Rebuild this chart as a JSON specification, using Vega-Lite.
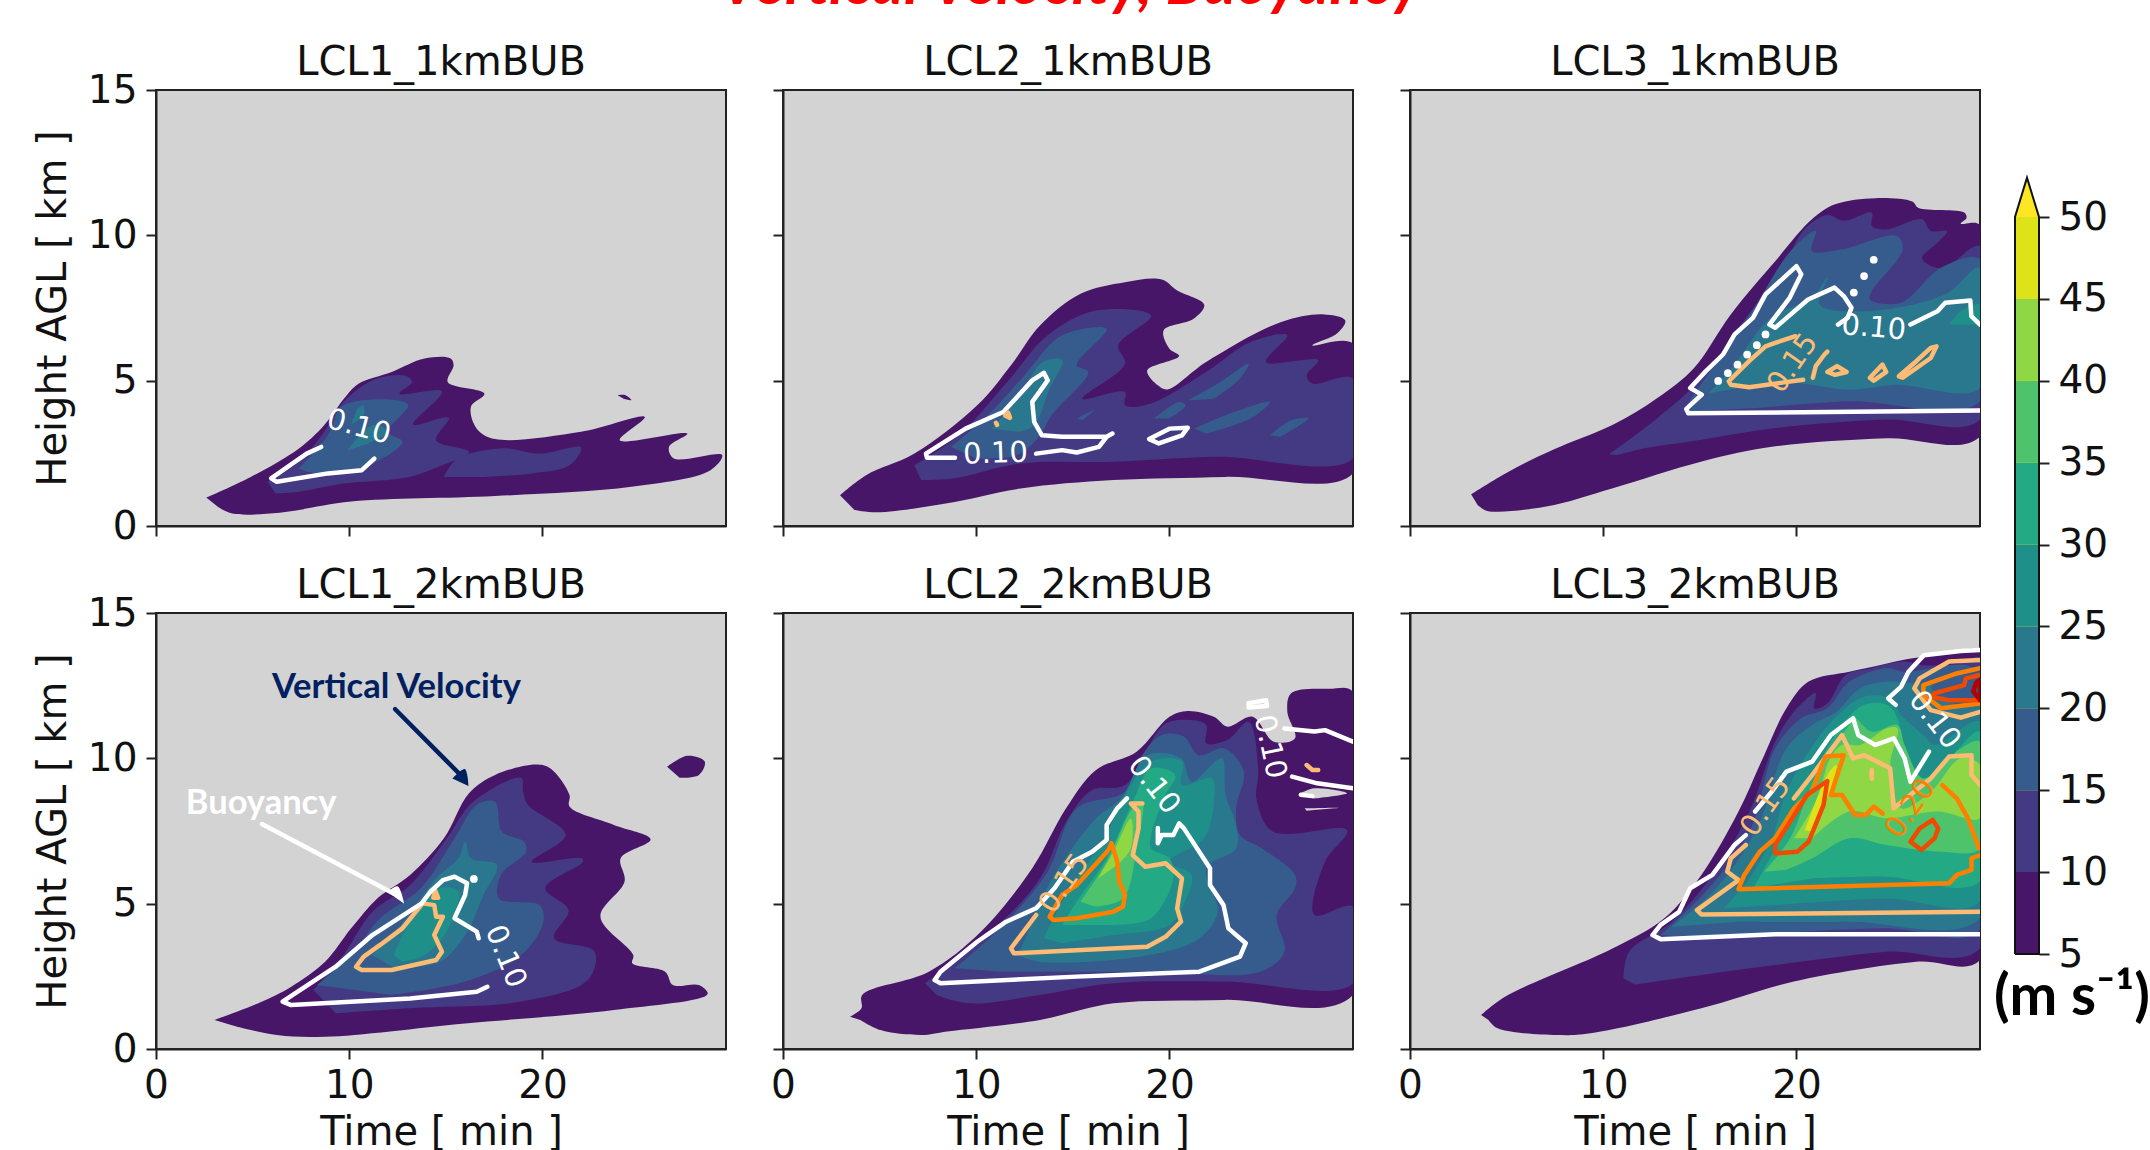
{"$schema":"https://vega.github.io/schema/vega-lite/v6.json","padding":{"left":32,"top":0,"right":0,"bottom":0},"background":"white","spacing":26,
"config":{"font":"DejaVu Sans","view":{"fill":"#d3d3d3","stroke":"#222222","strokeWidth":2},"axis":{"labelFont":"DejaVu Sans","titleFont":"DejaVu Sans","labelFontSize":39,"titleFontSize":40,"titleFontWeight":"normal","labelColor":"#111","titleColor":"#111","tickColor":"#222","domainColor":"#222","tickSize":10,"tickWidth":2,"domainWidth":2,"grid":false,"labelPadding":9,"labelOverlap":false,"labelFlush":false},"axisX":{"labelPadding":7,"titlePadding":7},"axisY":{"titlePadding":14},"title":{"font":"DejaVu Sans","fontSize":40,"fontWeight":"normal","color":"#111","offset":6}},
"datasets":{
"fa":[{"g":1,"l":5,"t":2.6,"h":0.98},{"g":1,"l":5,"t":4.9,"h":1.69},{"g":1,"l":5,"t":7.4,"h":2.67},{"g":1,"l":5,"t":8.7,"h":3.47},{"g":1,"l":5,"t":9.8,"h":4.44},{"g":1,"l":5,"t":10.5,"h":4.9},{"g":1,"l":5,"t":12.2,"h":5.3},{"g":1,"l":5,"t":13.9,"h":5.76},{"g":1,"l":5,"t":15.25,"h":5.76},{"g":1,"l":5,"t":15.4,"h":5.53},{"g":1,"l":5,"t":15.1,"h":4.95},{"g":1,"l":5,"t":17,"h":4.55},{"g":1,"l":5,"t":16.3,"h":4.1},{"g":1,"l":5,"t":16.6,"h":3.35},{"g":1,"l":5,"t":17.55,"h":2.99},{"g":1,"l":5,"t":22,"h":3.24},{"g":1,"l":5,"t":25.3,"h":3.75},{"g":1,"l":5,"t":24,"h":2.95},{"g":1,"l":5,"t":27.5,"h":3.18},{"g":1,"l":5,"t":26.55,"h":2.72},{"g":1,"l":5,"t":26.8,"h":2.32},{"g":1,"l":5,"t":29.3,"h":2.44},{"g":1,"l":5,"t":28.7,"h":1.92},{"g":1,"l":5,"t":24.6,"h":1.35},{"g":1,"l":5,"t":17.55,"h":1.03},{"g":1,"l":5,"t":10.1,"h":0.84},{"g":1,"l":5,"t":6.4,"h":0.46},{"g":1,"l":5,"t":3.95,"h":0.43},{"g":1,"l":5,"t":3.2,"h":0.66},
{"g":2,"l":5,"t":23.9,"h":4.5},{"g":2,"l":5,"t":24.3,"h":4.5},{"g":2,"l":5,"t":24.6,"h":4.33},{"g":2,"l":5,"t":24.2,"h":4.38},
{"g":3,"l":10,"t":5.77,"h":1.52},{"g":3,"l":10,"t":7.4,"h":2.2},{"g":3,"l":10,"t":8.7,"h":3.24},{"g":3,"l":10,"t":9.7,"h":4.27},{"g":3,"l":10,"t":11.4,"h":5.07},{"g":3,"l":10,"t":12.95,"h":5.16},{"g":3,"l":10,"t":13.25,"h":4.95},{"g":3,"l":10,"t":12.6,"h":4.55},{"g":3,"l":10,"t":14.8,"h":4.63},{"g":3,"l":10,"t":13.3,"h":3.49},{"g":3,"l":10,"t":15.15,"h":3.72},{"g":3,"l":10,"t":14.5,"h":2.95},{"g":3,"l":10,"t":16.2,"h":2.55},{"g":3,"l":10,"t":14.8,"h":2.09},{"g":3,"l":10,"t":13.1,"h":1.69},{"g":3,"l":10,"t":9.7,"h":1.46},{"g":3,"l":10,"t":7.4,"h":1.18},{"g":3,"l":10,"t":6.2,"h":1.12},
{"g":4,"l":10,"t":14.9,"h":1.69},{"g":4,"l":10,"t":15.6,"h":2.32},{"g":4,"l":10,"t":17.9,"h":2.67},{"g":4,"l":10,"t":19.85,"h":2.49},{"g":4,"l":10,"t":22,"h":2.7},{"g":4,"l":10,"t":21.4,"h":2.09},{"g":4,"l":10,"t":19.45,"h":1.81},{"g":4,"l":10,"t":17,"h":1.69},
{"g":5,"l":15,"t":7.4,"h":1.98},{"g":5,"l":15,"t":8.9,"h":3.12},{"g":5,"l":15,"t":9.7,"h":4.15},{"g":5,"l":15,"t":13.05,"h":4.18},{"g":5,"l":15,"t":12,"h":3.24},{"g":5,"l":15,"t":12.75,"h":2.9},{"g":5,"l":15,"t":11.2,"h":2.15},{"g":5,"l":15,"t":8.9,"h":1.81},{"g":5,"l":15,"t":7.8,"h":1.87},
{"g":6,"l":20,"t":9.9,"h":2.6},{"g":6,"l":20,"t":11.2,"h":3.47},{"g":6,"l":20,"t":12,"h":3.24},{"g":6,"l":20,"t":11,"h":2.84},
{"g":7,"l":20,"t":10.4,"h":4},{"g":7,"l":20,"t":10.7,"h":4.15},{"g":7,"l":20,"t":10.75,"h":3.8},{"g":7,"l":20,"t":10.1,"h":3.5}],
"ca":[{"g":1,"c":10,"t":8.55,"h":2.72},{"g":1,"c":10,"t":7.8,"h":2.49},{"g":1,"c":10,"t":5.96,"h":1.64},{"g":1,"c":10,"t":6.25,"h":1.52},{"g":1,"c":10,"t":8.9,"h":1.81},{"g":1,"c":10,"t":10.65,"h":1.92},{"g":1,"c":10,"t":11.3,"h":2.32}],
"la":[{"x":"0.10","c":10,"t":10.5,"h":3.41,"a":15}],
"fb":[{"g":1,"l":5,"t":2.95,"h":1.06},{"g":1,"l":5,"t":4.3,"h":1.75},{"g":1,"l":5,"t":6.8,"h":2.49},{"g":1,"l":5,"t":10.05,"h":4.15},{"g":1,"l":5,"t":11.8,"h":5.53},{"g":1,"l":5,"t":13.3,"h":6.9},{"g":1,"l":5,"t":15.4,"h":7.99},{"g":1,"l":5,"t":17.7,"h":8.39},{"g":1,"l":5,"t":19.6,"h":8.48},{"g":1,"l":5,"t":20.4,"h":8.1},{"g":1,"l":5,"t":21.8,"h":7.61},{"g":1,"l":5,"t":21.25,"h":7.13},{"g":1,"l":5,"t":19.7,"h":6.73},{"g":1,"l":5,"t":20,"h":6.1},{"g":1,"l":5,"t":20.5,"h":5.85},{"g":1,"l":5,"t":18.85,"h":5.35},{"g":1,"l":5,"t":19.4,"h":4.84},{"g":1,"l":5,"t":19.9,"h":4.7},{"g":1,"l":5,"t":21.9,"h":5.64},{"g":1,"l":5,"t":25.75,"h":7.01},{"g":1,"l":5,"t":28,"h":7.28},{"g":1,"l":5,"t":29.1,"h":7.07},{"g":1,"l":5,"t":28.65,"h":6.61},{"g":1,"l":5,"t":27.4,"h":6.21},{"g":1,"l":5,"t":29.5,"h":6.27},{"g":1,"l":5,"t":29.5,"h":1.81},{"g":1,"l":5,"t":22.9,"h":1.69},{"g":1,"l":5,"t":17.1,"h":1.58},{"g":1,"l":5,"t":12.3,"h":1.29},{"g":1,"l":5,"t":8.5,"h":0.78},{"g":1,"l":5,"t":4.85,"h":0.47},{"g":1,"l":5,"t":3.7,"h":0.55},
{"g":2,"l":10,"t":6.8,"h":2.09},{"g":2,"l":10,"t":9.1,"h":3.12},{"g":2,"l":10,"t":11.6,"h":4.95},{"g":2,"l":10,"t":13.7,"h":6.56},{"g":2,"l":10,"t":16.2,"h":7.41},{"g":2,"l":10,"t":19.05,"h":7.24},{"g":2,"l":10,"t":17.35,"h":6.21},{"g":2,"l":10,"t":17.7,"h":5.58},{"g":2,"l":10,"t":15.5,"h":4.38},{"g":2,"l":10,"t":17.7,"h":4.61},{"g":2,"l":10,"t":17.7,"h":4.15},{"g":2,"l":10,"t":19,"h":4.21},{"g":2,"l":10,"t":21.9,"h":5.3},{"g":2,"l":10,"t":24.2,"h":6.33},{"g":2,"l":10,"t":26.1,"h":6.56},{"g":2,"l":10,"t":25,"h":5.64},{"g":2,"l":10,"t":27.7,"h":5.7},{"g":2,"l":10,"t":27.1,"h":5.18},{"g":2,"l":10,"t":27.4,"h":4.9},{"g":2,"l":10,"t":29.5,"h":5.07},{"g":2,"l":10,"t":29.5,"h":2.32},{"g":2,"l":10,"t":22.5,"h":2.38},{"g":2,"l":10,"t":17.1,"h":2.21},{"g":2,"l":10,"t":12.3,"h":2.15},{"g":2,"l":10,"t":8.9,"h":1.64},{"g":2,"l":10,"t":7.15,"h":1.58},
{"g":3,"l":15,"t":8.7,"h":2.72},{"g":3,"l":15,"t":10.6,"h":3.81},{"g":3,"l":15,"t":12.35,"h":5.07},{"g":3,"l":15,"t":14.45,"h":6.56},{"g":3,"l":15,"t":16.75,"h":6.78},{"g":3,"l":15,"t":15.2,"h":5.53},{"g":3,"l":15,"t":15.8,"h":5.3},{"g":3,"l":15,"t":13.9,"h":3.81},{"g":3,"l":15,"t":13.3,"h":3.12},{"g":3,"l":15,"t":12.15,"h":2.44},{"g":3,"l":15,"t":10,"h":2.32},
{"g":4,"l":15,"t":15.2,"h":3.7},{"g":4,"l":15,"t":16.1,"h":3.98},{"g":4,"l":15,"t":15.5,"h":3.64},
{"g":5,"l":15,"t":19.2,"h":3.7},{"g":5,"l":15,"t":20.5,"h":4.27},{"g":5,"l":15,"t":20.85,"h":4.15},{"g":5,"l":15,"t":20,"h":3.7},
{"g":6,"l":15,"t":20.95,"h":4.32},{"g":6,"l":15,"t":22.5,"h":4.9},{"g":6,"l":15,"t":24.1,"h":5.58},{"g":6,"l":15,"t":23.65,"h":5.07},{"g":6,"l":15,"t":22.3,"h":4.38},
{"g":7,"l":15,"t":21.3,"h":3.35},{"g":7,"l":15,"t":22.9,"h":3.81},{"g":7,"l":15,"t":25.2,"h":4.27},{"g":7,"l":15,"t":24.2,"h":3.7},{"g":7,"l":15,"t":21.9,"h":3.18},
{"g":8,"l":15,"t":25.2,"h":3.12},{"g":8,"l":15,"t":26.3,"h":3.64},{"g":8,"l":15,"t":27.2,"h":3.7},{"g":8,"l":15,"t":25.75,"h":3.07},
{"g":9,"l":20,"t":10.8,"h":3.35},{"g":9,"l":20,"t":12.15,"h":4.38},{"g":9,"l":20,"t":13.45,"h":5.64},{"g":9,"l":20,"t":14.45,"h":5.7},{"g":9,"l":20,"t":13.8,"h":4.73},{"g":9,"l":20,"t":13,"h":3.47},{"g":9,"l":20,"t":12.15,"h":3.24}],
"cb":[{"g":1,"c":10,"t":8.9,"h":2.35},{"g":1,"c":10,"t":7.45,"h":2.35},{"g":1,"c":10,"t":7.4,"h":2.49},{"g":1,"c":10,"t":9.45,"h":3.35},{"g":1,"c":10,"t":11.4,"h":3.92},{"g":1,"c":10,"t":12.35,"h":4.61},{"g":1,"c":10,"t":12.9,"h":5.01},{"g":1,"c":10,"t":13.5,"h":5.27},{"g":1,"c":10,"t":13.7,"h":5.01},{"g":1,"c":10,"t":12.9,"h":4.27},{"g":1,"c":10,"t":13,"h":3.58},{"g":1,"c":10,"t":13.4,"h":3.12},{"g":1,"c":10,"t":14.45,"h":3.07},{"g":1,"c":10,"t":16.75,"h":3.07},{"g":1,"c":10,"t":17.05,"h":3.18},{"g":1,"c":10,"t":16.75,"h":3.07},{"g":1,"c":10,"t":16.35,"h":2.72},{"g":1,"c":10,"t":15.2,"h":2.53},{"g":1,"c":10,"t":14.45,"h":2.61},{"g":1,"c":10,"t":13.1,"h":2.49},
{"g":2,"c":10,"t":18.95,"h":2.99},{"g":2,"c":10,"t":20,"h":3.35},{"g":2,"c":10,"t":20.95,"h":3.38},{"g":2,"c":10,"t":20.65,"h":3.12},{"g":2,"c":10,"t":19.45,"h":2.84},{"g":2,"c":10,"t":18.95,"h":2.99},
{"g":3,"c":15,"t":11.5,"h":3.8},{"g":3,"c":15,"t":11.65,"h":3.9},{"g":3,"c":15,"t":11.75,"h":3.72},{"g":3,"c":15,"t":11.5,"h":3.8},
{"g":4,"c":15,"t":11.02,"h":3.55},{"g":4,"c":15,"t":11.08,"h":3.48}],
"lb":[{"x":"0.10","c":10,"t":11,"h":2.49,"a":-2}],
"fc":[{"g":1,"l":5,"t":3.16,"h":1.09},{"g":1,"l":5,"t":5.1,"h":1.87},{"g":1,"l":5,"t":7.4,"h":2.62},{"g":1,"l":5,"t":10.5,"h":3.48},{"g":1,"l":5,"t":12.8,"h":4.4},{"g":1,"l":5,"t":14.7,"h":5.44},{"g":1,"l":5,"t":16.6,"h":7.28},{"g":1,"l":5,"t":18.9,"h":9.11},{"g":1,"l":5,"t":20.8,"h":10.55},{"g":1,"l":5,"t":22,"h":11.07},{"g":1,"l":5,"t":24.1,"h":11.28},{"g":1,"l":5,"t":26,"h":11.16},{"g":1,"l":5,"t":26.3,"h":10.95},{"g":1,"l":5,"t":28.7,"h":10.78},{"g":1,"l":5,"t":28.8,"h":10.6},{"g":1,"l":5,"t":28.5,"h":10.4},{"g":1,"l":5,"t":29.5,"h":10.36},{"g":1,"l":5,"t":29.5,"h":3.08},{"g":1,"l":5,"t":24.65,"h":3.02},{"g":1,"l":5,"t":18.9,"h":2.74},{"g":1,"l":5,"t":15.1,"h":2.22},{"g":1,"l":5,"t":10.5,"h":1.3},{"g":1,"l":5,"t":7.05,"h":0.67},{"g":1,"l":5,"t":4,"h":0.52},{"g":1,"l":5,"t":3.5,"h":0.72},
{"g":2,"l":10,"t":10.3,"h":2.47},{"g":2,"l":10,"t":12.8,"h":3.71},{"g":2,"l":10,"t":15.1,"h":5.09},{"g":2,"l":10,"t":17,"h":6.82},{"g":2,"l":10,"t":19.3,"h":8.89},{"g":2,"l":10,"t":20.4,"h":10.2},{"g":2,"l":10,"t":21.6,"h":10.7},{"g":2,"l":10,"t":22.45,"h":10.5},{"g":2,"l":10,"t":23.9,"h":10.78},{"g":2,"l":10,"t":23.9,"h":10.32},{"g":2,"l":10,"t":24.65,"h":10.2},{"g":2,"l":10,"t":26.5,"h":10.55},{"g":2,"l":10,"t":26.95,"h":10.15},{"g":2,"l":10,"t":27.8,"h":10.15},{"g":2,"l":10,"t":27.3,"h":9.75},{"g":2,"l":10,"t":26.5,"h":9.2},{"g":2,"l":10,"t":27.55,"h":8.86},{"g":2,"l":10,"t":29.5,"h":9.63},{"g":2,"l":10,"t":29.5,"h":3.66},{"g":2,"l":10,"t":24.65,"h":3.66},{"g":2,"l":10,"t":18.9,"h":3.37},{"g":2,"l":10,"t":15.1,"h":2.97},{"g":2,"l":10,"t":12.2,"h":2.68},{"g":2,"l":10,"t":10.7,"h":2.43},
{"g":3,"l":15,"t":14.1,"h":3.94},{"g":3,"l":15,"t":15.65,"h":5.44},{"g":3,"l":15,"t":17.6,"h":7.28},{"g":3,"l":15,"t":19.7,"h":9.46},{"g":3,"l":15,"t":21,"h":10.15},{"g":3,"l":15,"t":20.8,"h":9.46},{"g":3,"l":15,"t":22.35,"h":9.52},{"g":3,"l":15,"t":25.2,"h":9.98},{"g":3,"l":15,"t":25.5,"h":9.52},{"g":3,"l":15,"t":23.9,"h":8.08},{"g":3,"l":15,"t":23.8,"h":7.79},{"g":3,"l":15,"t":25.4,"h":7.68},{"g":3,"l":15,"t":27.5,"h":8.89},{"g":3,"l":15,"t":29.5,"h":9.17},{"g":3,"l":15,"t":29.5,"h":4.29},{"g":3,"l":15,"t":22.75,"h":4.29},{"g":3,"l":15,"t":17.95,"h":4.06},
{"g":4,"l":20,"t":15.45,"h":4.57},{"g":4,"l":20,"t":16.8,"h":5.55},{"g":4,"l":20,"t":18.15,"h":6.82},{"g":4,"l":20,"t":18.9,"h":7.28},{"g":4,"l":20,"t":20.8,"h":7.85},{"g":4,"l":20,"t":21.6,"h":8.54},{"g":4,"l":20,"t":21.2,"h":7.62},{"g":4,"l":20,"t":23.7,"h":7.39},{"g":4,"l":20,"t":27.7,"h":7.97},{"g":4,"l":20,"t":29.5,"h":8.89},{"g":4,"l":20,"t":29.5,"h":4.75},{"g":4,"l":20,"t":25.2,"h":4.86},{"g":4,"l":20,"t":22.75,"h":4.69},{"g":4,"l":20,"t":19.85,"h":4.92},{"g":4,"l":20,"t":17,"h":4.75},
{"g":5,"l":25,"t":27.9,"h":6.93},{"g":5,"l":25,"t":28.5,"h":7.39},{"g":5,"l":25,"t":29.5,"h":7.62},{"g":5,"l":25,"t":29.5,"h":6.93}],
"cc":[{"g":1,"c":10,"t":29.5,"h":3.97},{"g":1,"c":10,"t":14.4,"h":3.88},{"g":1,"c":10,"t":14.3,"h":4.03},{"g":1,"c":10,"t":15.1,"h":4.52},{"g":1,"c":10,"t":14.5,"h":4.75},{"g":1,"c":10,"t":15.3,"h":5.32},{"g":1,"c":10,"t":16.2,"h":5.9},{"g":1,"c":10,"t":16.8,"h":6.59},{"g":1,"c":10,"t":17.75,"h":7.16},{"g":1,"c":10,"t":18.4,"h":7.97},{"g":1,"c":10,"t":20,"h":8.94},{"g":1,"c":10,"t":20.25,"h":8.66},{"g":1,"c":10,"t":19.65,"h":7.85},{"g":1,"c":10,"t":18.6,"h":6.93},{"g":1,"c":10,"t":18.9,"h":6.82},{"g":1,"c":10,"t":20.6,"h":7.79},{"g":1,"c":10,"t":21.97,"h":8.2},{"g":1,"c":10,"t":22.45,"h":7.91},{"g":1,"c":10,"t":22.85,"h":7.51},{"g":1,"c":10,"t":22.65,"h":7.16},{"g":1,"c":10,"t":22.15,"h":6.93},
{"g":2,"c":10,"t":25.9,"h":6.93},{"g":2,"c":10,"t":27.3,"h":7.39},{"g":2,"c":10,"t":27.7,"h":7.68},{"g":2,"c":10,"t":29,"h":7.76},{"g":2,"c":10,"t":29.05,"h":7.22},{"g":2,"c":10,"t":29.5,"h":6.93},
{"g":3,"c":15,"t":20.35,"h":5.03},{"g":3,"c":15,"t":19.45,"h":4.95},{"g":3,"c":15,"t":17.55,"h":4.77},{"g":3,"c":15,"t":16.6,"h":4.86},{"g":3,"c":15,"t":16.5,"h":4.98},{"g":3,"c":15,"t":17.55,"h":5.67},{"g":3,"c":15,"t":18.4,"h":6.18},{"g":3,"c":15,"t":18.9,"h":6.3},{"g":3,"c":15,"t":19.95,"h":6.53},
{"g":4,"c":15,"t":20.85,"h":5.1},{"g":4,"c":15,"t":21,"h":5.5},{"g":4,"c":15,"t":21.45,"h":5.9},{"g":4,"c":15,"t":21.6,"h":6},
{"g":5,"c":15,"t":21.6,"h":5.3},{"g":5,"c":15,"t":22.1,"h":5.5},{"g":5,"c":15,"t":22.6,"h":5.3},{"g":5,"c":15,"t":22,"h":5.2},{"g":5,"c":15,"t":21.6,"h":5.3},
{"g":6,"c":15,"t":23.8,"h":5.1},{"g":6,"c":15,"t":24.45,"h":5.55},{"g":6,"c":15,"t":24.65,"h":5.3},{"g":6,"c":15,"t":24,"h":5},{"g":6,"c":15,"t":23.8,"h":5.1},
{"g":7,"c":15,"t":25.3,"h":5.15},{"g":7,"c":15,"t":26.2,"h":5.67},{"g":7,"c":15,"t":26.95,"h":6.13},{"g":7,"c":15,"t":27.25,"h":6.18},{"g":7,"c":15,"t":26.95,"h":5.78},{"g":7,"c":15,"t":25.5,"h":5.1},{"g":7,"c":15,"t":25.3,"h":5.15}],
"lc":[{"x":"0.10","c":10,"t":24,"h":6.82,"a":5},{"x":"0.15","c":15,"t":19.8,"h":5.6,"a":-55}],
"dc":[{"t":15.95,"h":4.99},{"t":16.45,"h":5.26},{"t":16.95,"h":5.55},{"t":17.45,"h":5.9},{"t":17.95,"h":6.22},{"t":18.4,"h":6.59},{"t":22.97,"h":8.03},{"t":23.5,"h":8.6},{"t":24,"h":9.16}],
"fd":[{"g":1,"l":5,"t":3.03,"h":1},{"g":1,"l":5,"t":5.5,"h":1.63},{"g":1,"l":5,"t":7,"h":2.14},{"g":1,"l":5,"t":8.75,"h":3},{"g":1,"l":5,"t":10.1,"h":4.15},{"g":1,"l":5,"t":11.45,"h":5.18},{"g":1,"l":5,"t":13.15,"h":5.99},{"g":1,"l":5,"t":14.9,"h":7.25},{"g":1,"l":5,"t":16.2,"h":8.8},{"g":1,"l":5,"t":17.55,"h":9.43},{"g":1,"l":5,"t":19.65,"h":9.79},{"g":1,"l":5,"t":20.4,"h":9.66},{"g":1,"l":5,"t":21.4,"h":8.74},{"g":1,"l":5,"t":21.4,"h":8.34},{"g":1,"l":5,"t":23.7,"h":7.71},{"g":1,"l":5,"t":25.6,"h":7.21},{"g":1,"l":5,"t":24.05,"h":6.56},{"g":1,"l":5,"t":24.25,"h":5.76},{"g":1,"l":5,"t":23,"h":4.55},{"g":1,"l":5,"t":24.7,"h":3.23},{"g":1,"l":5,"t":24.65,"h":2.95},{"g":1,"l":5,"t":26.35,"h":2.66},{"g":1,"l":5,"t":26.75,"h":2.2},{"g":1,"l":5,"t":28.1,"h":2.2},{"g":1,"l":5,"t":28.55,"h":1.89},{"g":1,"l":5,"t":23.7,"h":1.34},{"g":1,"l":5,"t":16,"h":0.88},{"g":1,"l":5,"t":8.75,"h":0.42},{"g":1,"l":5,"t":6.25,"h":0.48},{"g":1,"l":5,"t":4.15,"h":0.77},
{"g":2,"l":5,"t":26.45,"h":9.71},{"g":2,"l":5,"t":27.5,"h":10.09},{"g":2,"l":5,"t":28.4,"h":9.89},{"g":2,"l":5,"t":28.1,"h":9.43},{"g":2,"l":5,"t":27.1,"h":9.33},
{"g":3,"l":10,"t":8.15,"h":2.03},{"g":3,"l":10,"t":9.7,"h":3.23},{"g":3,"l":10,"t":11.2,"h":4.72},{"g":3,"l":10,"t":13.15,"h":5.64},{"g":3,"l":10,"t":15.05,"h":7.25},{"g":3,"l":10,"t":16.4,"h":8.5},{"g":3,"l":10,"t":18.9,"h":9.33},{"g":3,"l":10,"t":19,"h":8.85},{"g":3,"l":10,"t":19.25,"h":8.4},{"g":3,"l":10,"t":21.2,"h":7.36},{"g":3,"l":10,"t":19.45,"h":6.44},{"g":3,"l":10,"t":22.05,"h":6.56},{"g":3,"l":10,"t":22.1,"h":6.44},{"g":3,"l":10,"t":20.15,"h":5.53},{"g":3,"l":10,"t":21.35,"h":4.78},{"g":3,"l":10,"t":20.6,"h":3.81},{"g":3,"l":10,"t":22.7,"h":3.35},{"g":3,"l":10,"t":22.35,"h":2.37},{"g":3,"l":10,"t":18.9,"h":1.63},{"g":3,"l":10,"t":13.15,"h":1.4},{"g":3,"l":10,"t":9.3,"h":1.23},
{"g":4,"l":15,"t":8.35,"h":2.2},{"g":4,"l":15,"t":10.1,"h":3.23},{"g":4,"l":15,"t":11.6,"h":4.5},{"g":4,"l":15,"t":13.7,"h":5.53},{"g":4,"l":15,"t":15.45,"h":7.25},{"g":4,"l":15,"t":16.6,"h":8.4},{"g":4,"l":15,"t":17.55,"h":8.5},{"g":4,"l":15,"t":17.9,"h":7.48},{"g":4,"l":15,"t":19.05,"h":7.13},{"g":4,"l":15,"t":19.15,"h":6.79},{"g":4,"l":15,"t":17.85,"h":5.99},{"g":4,"l":15,"t":17.75,"h":5.18},{"g":4,"l":15,"t":19.85,"h":4.95},{"g":4,"l":15,"t":20.05,"h":4.38},{"g":4,"l":15,"t":18.9,"h":3.23},{"g":4,"l":15,"t":16,"h":2.32},{"g":4,"l":15,"t":12.2,"h":1.86},
{"g":5,"l":20,"t":11.2,"h":3.23},{"g":5,"l":20,"t":12.95,"h":4.5},{"g":5,"l":20,"t":14.5,"h":5.87},{"g":5,"l":20,"t":15.65,"h":6.56},{"g":5,"l":20,"t":16,"h":7.13},{"g":5,"l":20,"t":16.3,"h":6.56},{"g":5,"l":20,"t":17.65,"h":6.33},{"g":5,"l":20,"t":16.95,"h":5.3},{"g":5,"l":20,"t":16,"h":3.92},{"g":5,"l":20,"t":14.7,"h":3},{"g":5,"l":20,"t":12.35,"h":2.78},
{"g":6,"l":25,"t":12.3,"h":3.23},{"g":6,"l":25,"t":13.15,"h":4.38},{"g":6,"l":25,"t":14.7,"h":5.53},{"g":6,"l":25,"t":15.65,"h":5.41},{"g":6,"l":25,"t":15.05,"h":4.04},{"g":6,"l":25,"t":13.9,"h":3.23},{"g":6,"l":25,"t":12.75,"h":3},
{"g":7,"l":1,"t":15.34,"h":9.31},{"g":7,"l":1,"t":15.98,"h":9.63},{"g":7,"l":1,"t":16.17,"h":9.05},
{"g":8,"l":2,"t":11.99,"h":5.4},{"g":8,"l":2,"t":12.5,"h":5.6},{"g":8,"l":2,"t":12.85,"h":5.0}],
"cd":[{"g":1,"c":15,"t":10.35,"h":2.83},{"g":1,"c":15,"t":10.75,"h":3.18},{"g":1,"c":15,"t":11.6,"h":3.58},{"g":1,"c":15,"t":12.75,"h":4.15},{"g":1,"c":15,"t":13.8,"h":5.01},{"g":1,"c":15,"t":14.4,"h":4.95},{"g":1,"c":15,"t":14.5,"h":4.55},{"g":1,"c":15,"t":14.85,"h":4.55},{"g":1,"c":15,"t":14.4,"h":3.92},{"g":1,"c":15,"t":14.8,"h":3.35},{"g":1,"c":15,"t":14.5,"h":3.06},{"g":1,"c":15,"t":12.2,"h":2.72},{"g":1,"c":15,"t":10.65,"h":2.72},{"g":1,"c":15,"t":10.35,"h":2.83},
{"g":2,"c":15,"t":14.45,"h":5.45},{"g":2,"c":15,"t":14.6,"h":5.2},{"g":2,"c":15,"t":14.35,"h":5.2},{"g":2,"c":15,"t":14.45,"h":5.45},
{"g":3,"c":10,"t":16.7,"h":3.81},{"g":3,"c":10,"t":16.6,"h":4.04},{"g":3,"c":10,"t":15.45,"h":4.5},{"g":3,"c":10,"t":16,"h":5.3},{"g":3,"c":10,"t":16.1,"h":5.7},{"g":3,"c":10,"t":15.45,"h":5.93},{"g":3,"c":10,"t":14.85,"h":5.81},{"g":3,"c":10,"t":14.2,"h":5.41},{"g":3,"c":10,"t":13.75,"h":5.01},{"g":3,"c":10,"t":11.2,"h":3.92},{"g":3,"c":10,"t":9.3,"h":2.83},{"g":3,"c":10,"t":6.55,"h":1.63},{"g":3,"c":10,"t":7,"h":1.51},{"g":3,"c":10,"t":13.15,"h":1.74},{"g":3,"c":10,"t":16.6,"h":1.97},{"g":3,"c":10,"t":17.15,"h":2.14},
{"g":4,"c":99,"t":12.38,"h":11.69},{"g":4,"c":99,"t":15.8,"h":9.4},
{"g":5,"c":10,"t":5.48,"h":7.74},{"g":5,"c":10,"t":12.3,"h":5.35}],
"ld":[{"x":"0.10","c":10,"t":18.1,"h":3.18,"a":68}],
"dd":[{"t":16.45,"h":5.85}],
"td":[{"x":"Vertical Velocity","c":99,"t":12.44,"h":12.42},{"x":"Buoyancy","c":10,"t":5.44,"h":8.43}],
"fe":[{"g":1,"l":5,"t":3.47,"h":1.11},{"g":1,"l":5,"t":4.06,"h":1.4},{"g":1,"l":5,"t":4.1,"h":1.86},{"g":1,"l":5,"t":7.55,"h":2.66},{"g":1,"l":5,"t":10.25,"h":4.04},{"g":1,"l":5,"t":12.9,"h":6.22},{"g":1,"l":5,"t":14.65,"h":8.28},{"g":1,"l":5,"t":16.2,"h":9.6},{"g":1,"l":5,"t":18.3,"h":10.23},{"g":1,"l":5,"t":20,"h":11.43},{"g":1,"l":5,"t":20.95,"h":11.63},{"g":1,"l":5,"t":22.3,"h":11.43},{"g":1,"l":5,"t":23,"h":11.09},{"g":1,"l":5,"t":24.3,"h":11.43},{"g":1,"l":5,"t":25.4,"h":10.57},{"g":1,"l":5,"t":26.5,"h":10.69},{"g":1,"l":5,"t":26.1,"h":11.6},{"g":1,"l":5,"t":26.3,"h":12.24},{"g":1,"l":5,"t":28.25,"h":12.39},{"g":1,"l":5,"t":29.5,"h":12.29},{"g":1,"l":5,"t":29.5,"h":1.86},{"g":1,"l":5,"t":22.85,"h":1.69},{"g":1,"l":5,"t":17.1,"h":1.57},{"g":1,"l":5,"t":13.3,"h":1},{"g":1,"l":5,"t":8.5,"h":0.6},{"g":1,"l":5,"t":7.15,"h":0.48},{"g":1,"l":5,"t":5.05,"h":0.65},{"g":1,"l":5,"t":4,"h":1},
{"g":2,"l":10,"t":7.35,"h":2.26},{"g":2,"l":10,"t":10.6,"h":3.92},{"g":2,"l":10,"t":13.3,"h":5.87},{"g":2,"l":10,"t":14.65,"h":7.82},{"g":2,"l":10,"t":16,"h":8.91},{"g":2,"l":10,"t":17.7,"h":9.08},{"g":2,"l":10,"t":19.7,"h":11.15},{"g":2,"l":10,"t":20.95,"h":11.32},{"g":2,"l":10,"t":21.9,"h":11.15},{"g":2,"l":10,"t":21.9,"h":10.52},{"g":2,"l":10,"t":23,"h":10.63},{"g":2,"l":10,"t":24.1,"h":11.26},{"g":2,"l":10,"t":24.6,"h":9.54},{"g":2,"l":10,"t":24.5,"h":8.62},{"g":2,"l":10,"t":25.35,"h":7.48},{"g":2,"l":10,"t":29.2,"h":7.53},{"g":2,"l":10,"t":28.05,"h":6.44},{"g":2,"l":10,"t":27.5,"h":4.61},{"g":2,"l":10,"t":29.5,"h":4.9},{"g":2,"l":10,"t":29.5,"h":2.26},{"g":2,"l":10,"t":22.85,"h":2.32},{"g":2,"l":10,"t":17.1,"h":2.26},{"g":2,"l":10,"t":13.3,"h":1.86},{"g":2,"l":10,"t":9.65,"h":1.57},{"g":2,"l":10,"t":7.95,"h":1.86},
{"g":3,"l":15,"t":8.9,"h":2.78},{"g":3,"l":15,"t":11.4,"h":4.27},{"g":3,"l":15,"t":13.7,"h":6.1},{"g":3,"l":15,"t":15.2,"h":8.28},{"g":3,"l":15,"t":17.7,"h":8.85},{"g":3,"l":15,"t":18.65,"h":10.17},{"g":3,"l":15,"t":19.6,"h":10.8},{"g":3,"l":15,"t":20.75,"h":10.75},{"g":3,"l":15,"t":21.5,"h":10.11},{"g":3,"l":15,"t":22.85,"h":10.34},{"g":3,"l":15,"t":23.85,"h":9.54},{"g":3,"l":15,"t":23.45,"h":8.28},{"g":3,"l":15,"t":23.65,"h":7.36},{"g":3,"l":15,"t":24.8,"h":6.9},{"g":3,"l":15,"t":26.5,"h":5.99},{"g":3,"l":15,"t":26.5,"h":5.53},{"g":3,"l":15,"t":25.55,"h":4.61},{"g":3,"l":15,"t":25.95,"h":3.35},{"g":3,"l":15,"t":24.7,"h":2.66},{"g":3,"l":15,"t":19,"h":2.66},{"g":3,"l":15,"t":11.4,"h":2.66},
{"g":4,"l":20,"t":12.55,"h":3.81},{"g":4,"l":20,"t":13.85,"h":5.76},{"g":4,"l":20,"t":16.2,"h":7.93},{"g":4,"l":20,"t":17.5,"h":8.62},{"g":4,"l":20,"t":18.85,"h":10.11},{"g":4,"l":20,"t":20.6,"h":10},{"g":4,"l":20,"t":21.15,"h":9.2},{"g":4,"l":20,"t":22.7,"h":10},{"g":4,"l":20,"t":22.9,"h":8.74},{"g":4,"l":20,"t":23.45,"h":7.71},{"g":4,"l":20,"t":23.45,"h":6.9},{"g":4,"l":20,"t":21.9,"h":6.22},{"g":4,"l":20,"t":22.5,"h":4.72},{"g":4,"l":20,"t":21.55,"h":3.81},{"g":4,"l":20,"t":19,"h":3.23},{"g":4,"l":20,"t":13.3,"h":3},{"g":4,"l":20,"t":12.15,"h":3.23},
{"g":5,"l":25,"t":13.5,"h":3.81},{"g":5,"l":25,"t":14.85,"h":5.53},{"g":5,"l":25,"t":16.55,"h":7.13},{"g":5,"l":25,"t":17.7,"h":8.74},{"g":5,"l":25,"t":19.05,"h":9.89},{"g":5,"l":25,"t":20.65,"h":9.89},{"g":5,"l":25,"t":20.65,"h":9.08},{"g":5,"l":25,"t":22.2,"h":9.31},{"g":5,"l":25,"t":22.3,"h":8.5},{"g":5,"l":25,"t":21.8,"h":7.25},{"g":5,"l":25,"t":20,"h":6.44},{"g":5,"l":25,"t":21.15,"h":5.99},{"g":5,"l":25,"t":20.8,"h":5.07},{"g":5,"l":25,"t":20,"h":4.27},{"g":5,"l":25,"t":17.1,"h":3.92},{"g":5,"l":25,"t":14.45,"h":3.64},
{"g":6,"l":30,"t":14.45,"h":4.27},{"g":6,"l":30,"t":15.2,"h":5.07},{"g":6,"l":30,"t":16.75,"h":6.56},{"g":6,"l":30,"t":18.1,"h":8.51},{"g":6,"l":30,"t":19.05,"h":9.66},{"g":6,"l":30,"t":20.3,"h":9.43},{"g":6,"l":30,"t":19.8,"h":8.74},{"g":6,"l":30,"t":19.05,"h":7.36},{"g":6,"l":30,"t":19.05,"h":6.9},{"g":6,"l":30,"t":20,"h":6.56},{"g":6,"l":30,"t":20.2,"h":5.87},{"g":6,"l":30,"t":19.05,"h":4.5},{"g":6,"l":30,"t":17.1,"h":4.27},
{"g":7,"l":35,"t":15.4,"h":5.07},{"g":7,"l":35,"t":16.75,"h":6.44},{"g":7,"l":35,"t":18.1,"h":8.28},{"g":7,"l":35,"t":18.6,"h":8.51},{"g":7,"l":35,"t":18.3,"h":6.9},{"g":7,"l":35,"t":17.6,"h":5.18},{"g":7,"l":35,"t":16.15,"h":4.9},
{"g":8,"l":40,"t":16.3,"h":5.87},{"g":8,"l":40,"t":17.1,"h":6.79},{"g":8,"l":40,"t":18,"h":7.93},{"g":8,"l":40,"t":18,"h":6.9},{"g":8,"l":40,"t":17.3,"h":6.33},
{"g":9,"l":0,"t":26.8,"h":8.8},{"g":9,"l":0,"t":27.5,"h":8.97},{"g":9,"l":0,"t":29.2,"h":8.8},{"g":9,"l":0,"t":27.5,"h":8.62},
{"g":10,"l":0,"t":27,"h":8.28},{"g":10,"l":0,"t":28.8,"h":8.3},{"g":10,"l":0,"t":27.1,"h":8.2}],
"ce":[{"g":1,"c":10,"t":17.8,"h":8.62},{"g":1,"c":10,"t":17.3,"h":8.28},{"g":1,"c":10,"t":16.75,"h":7.71},{"g":1,"c":10,"t":16.75,"h":7.19},{"g":1,"c":10,"t":16,"h":6.79},{"g":1,"c":10,"t":15,"h":6.44},{"g":1,"c":10,"t":14.05,"h":5.53},{"g":1,"c":10,"t":13.1,"h":4.84},{"g":1,"c":10,"t":11.55,"h":4.38},{"g":1,"c":10,"t":10.05,"h":3.69},{"g":1,"c":10,"t":8.15,"h":2.66},{"g":1,"c":10,"t":7.85,"h":2.37},{"g":1,"c":10,"t":8.15,"h":2.26},{"g":1,"c":10,"t":15.2,"h":2.49},{"g":1,"c":10,"t":21.55,"h":2.66},{"g":1,"c":10,"t":23.65,"h":3.18},{"g":1,"c":10,"t":23.95,"h":3.64},{"g":1,"c":10,"t":23.05,"h":4.15},{"g":1,"c":10,"t":22.8,"h":4.95},{"g":1,"c":10,"t":22.1,"h":5.64},{"g":1,"c":10,"t":22.1,"h":6.22},{"g":1,"c":10,"t":20.75,"h":7.59},{"g":1,"c":10,"t":20.5,"h":7.76},{"g":1,"c":10,"t":20.2,"h":7.36},{"g":1,"c":10,"t":19.6,"h":7.36},{"g":1,"c":10,"t":19.4,"h":7.08},{"g":1,"c":10,"t":19.4,"h":7.6},
{"g":2,"c":10,"t":24.1,"h":11.9},{"g":2,"c":10,"t":25,"h":12},{"g":2,"c":10,"t":25.05,"h":11.8},{"g":2,"c":10,"t":24.1,"h":11.75},{"g":2,"c":10,"t":24.1,"h":11.9},
{"g":3,"c":10,"t":25.95,"h":11.03},{"g":3,"c":10,"t":27.5,"h":10.92},{"g":3,"c":10,"t":28.05,"h":10.97},{"g":3,"c":10,"t":29.5,"h":10.57},
{"g":4,"c":10,"t":26.35,"h":9.37},{"g":4,"c":10,"t":27.65,"h":9.14},{"g":4,"c":10,"t":29.5,"h":8.97},
{"g":5,"c":10,"t":26.8,"h":8.75},{"g":5,"c":10,"t":27.4,"h":8.7},
{"g":6,"c":15,"t":18.6,"h":8.45},{"g":6,"c":15,"t":18,"h":8.45},{"g":6,"c":15,"t":18.4,"h":8.17},{"g":6,"c":15,"t":18.4,"h":7.59},{"g":6,"c":15,"t":18.1,"h":6.67},{"g":6,"c":15,"t":18.75,"h":6.27},{"g":6,"c":15,"t":19.8,"h":6.39},{"g":6,"c":15,"t":20.65,"h":5.87},{"g":6,"c":15,"t":20.4,"h":4.84},{"g":6,"c":15,"t":20.6,"h":4.38},{"g":6,"c":15,"t":19.8,"h":3.86},{"g":6,"c":15,"t":18.85,"h":3.52},{"g":6,"c":15,"t":11.95,"h":3.29},{"g":6,"c":15,"t":11.8,"h":3.46},{"g":6,"c":15,"t":13.1,"h":4.61},
{"g":7,"c":15,"t":27.1,"h":9.77},{"g":7,"c":15,"t":27.4,"h":9.6},{"g":7,"c":15,"t":27.7,"h":9.6},
{"g":8,"c":20,"t":17,"h":7.08},{"g":8,"c":20,"t":16.85,"h":6.85},{"g":8,"c":20,"t":16.15,"h":6.33},{"g":8,"c":20,"t":15.2,"h":5.64},{"g":8,"c":20,"t":14.45,"h":5.3},{"g":8,"c":20,"t":13.8,"h":4.55},{"g":8,"c":20,"t":14,"h":4.44},{"g":8,"c":20,"t":15.2,"h":4.5},{"g":8,"c":20,"t":17.1,"h":4.72},{"g":8,"c":20,"t":17.6,"h":4.9},{"g":8,"c":20,"t":17.7,"h":5.3},{"g":8,"c":20,"t":17.4,"h":5.76},{"g":8,"c":20,"t":17.3,"h":6.44},{"g":8,"c":20,"t":17,"h":7.08}],
"le":[{"x":"0.10","c":10,"t":19.2,"h":9.08,"a":52},{"x":"0.10","c":10,"t":25.2,"h":10.4,"a":78},{"x":"0.15","c":15,"t":14.55,"h":5.7,"a":-55}],
"ff":[{"g":1,"l":5,"t":3.68,"h":1.17},{"g":1,"l":5,"t":4.92,"h":1.8},{"g":1,"l":5,"t":10.48,"h":3.46},{"g":1,"l":5,"t":13.16,"h":4.5},{"g":1,"l":5,"t":15.08,"h":5.99},{"g":1,"l":5,"t":17,"h":8.17},{"g":1,"l":5,"t":18.33,"h":10.11},{"g":1,"l":5,"t":19.48,"h":11.72},{"g":1,"l":5,"t":20.63,"h":12.64},{"g":1,"l":5,"t":22.74,"h":12.98},{"g":1,"l":5,"t":24.47,"h":13.23},{"g":1,"l":5,"t":25.5,"h":13.38},{"g":1,"l":5,"t":26.6,"h":13.5},{"g":1,"l":5,"t":28.5,"h":13.73},{"g":1,"l":5,"t":29.5,"h":13.67},{"g":1,"l":5,"t":29.5,"h":3.06},{"g":1,"l":5,"t":26.2,"h":3},{"g":1,"l":5,"t":19.87,"h":2.32},{"g":1,"l":5,"t":15.08,"h":1.4},{"g":1,"l":5,"t":9.33,"h":0.54},{"g":1,"l":5,"t":7.6,"h":0.48},{"g":1,"l":5,"t":4.54,"h":0.71},{"g":1,"l":5,"t":4.06,"h":1},
{"g":2,"l":10,"t":11.05,"h":2.43},{"g":2,"l":10,"t":11.34,"h":3.35},{"g":2,"l":10,"t":13.55,"h":4.38},{"g":2,"l":10,"t":15.65,"h":5.99},{"g":2,"l":10,"t":17.57,"h":8.17},{"g":2,"l":10,"t":18.9,"h":10.57},{"g":2,"l":10,"t":19.87,"h":11.6},{"g":2,"l":10,"t":21,"h":12.24},{"g":2,"l":10,"t":20.92,"h":11.72},{"g":2,"l":10,"t":21.6,"h":11.89},{"g":2,"l":10,"t":22.55,"h":12.87},{"g":2,"l":10,"t":23.9,"h":13.1},{"g":2,"l":10,"t":25.5,"h":13.33},{"g":2,"l":10,"t":26.6,"h":13.2},{"g":2,"l":10,"t":28.5,"h":13.27},{"g":2,"l":10,"t":29.5,"h":13.46},{"g":2,"l":10,"t":29.5,"h":3.46},{"g":2,"l":10,"t":24.65,"h":3.35},{"g":2,"l":10,"t":18.9,"h":2.89},{"g":2,"l":10,"t":15.08,"h":2.55},{"g":2,"l":10,"t":11.63,"h":2.22},
{"g":3,"l":15,"t":12.97,"h":3.92},{"g":3,"l":15,"t":15.46,"h":5.53},{"g":3,"l":15,"t":17.57,"h":7.48},{"g":3,"l":15,"t":18.9,"h":10.34},{"g":3,"l":15,"t":20.25,"h":11.38},{"g":3,"l":15,"t":21.6,"h":11.72},{"g":3,"l":15,"t":22.74,"h":12.64},{"g":3,"l":15,"t":24.67,"h":13.1},{"g":3,"l":15,"t":25.6,"h":12.98},{"g":3,"l":15,"t":29.5,"h":12.98},{"g":3,"l":15,"t":29.5,"h":4.09},{"g":3,"l":15,"t":24.65,"h":4.15},{"g":3,"l":15,"t":18.9,"h":3.98},{"g":3,"l":15,"t":15.08,"h":3.81},
{"g":4,"l":20,"t":13.55,"h":4.21},{"g":4,"l":20,"t":15.85,"h":5.53},{"g":4,"l":20,"t":17.95,"h":7.59},{"g":4,"l":20,"t":19.48,"h":10.34},{"g":4,"l":20,"t":20.82,"h":11.15},{"g":4,"l":20,"t":22.07,"h":11.6},{"g":4,"l":20,"t":23.3,"h":12.41},{"g":4,"l":20,"t":24.85,"h":12.64},{"g":4,"l":20,"t":26.6,"h":12.52},{"g":4,"l":20,"t":29.5,"h":12.29},{"g":4,"l":20,"t":29.5,"h":4.5},{"g":4,"l":20,"t":22.74,"h":4.38},{"g":4,"l":20,"t":17,"h":4.38},
{"g":5,"l":25,"t":16.23,"h":4.84},{"g":5,"l":25,"t":17.57,"h":5.87},{"g":5,"l":25,"t":18.72,"h":7.25},{"g":5,"l":25,"t":19.48,"h":8.85},{"g":5,"l":25,"t":20.63,"h":10.23},{"g":5,"l":25,"t":21.97,"h":11.38},{"g":5,"l":25,"t":23.5,"h":12.12},{"g":5,"l":25,"t":24.85,"h":12.06},{"g":5,"l":25,"t":25.42,"h":11.49},{"g":5,"l":25,"t":26.57,"h":10.8},{"g":5,"l":25,"t":27.15,"h":10.46},{"g":5,"l":25,"t":29.5,"h":11.26},{"g":5,"l":25,"t":29.5,"h":5.07},{"g":5,"l":25,"t":24.65,"h":5.18},{"g":5,"l":25,"t":18.9,"h":4.95},
{"g":6,"l":30,"t":17.76,"h":5.53},{"g":6,"l":30,"t":18.9,"h":6.9},{"g":6,"l":30,"t":20.05,"h":8.62},{"g":6,"l":30,"t":21,"h":9.66},{"g":6,"l":30,"t":22.36,"h":11.15},{"g":6,"l":30,"t":23.5,"h":11.84},{"g":6,"l":30,"t":24.67,"h":11.84},{"g":6,"l":30,"t":25.23,"h":11.38},{"g":6,"l":30,"t":25.6,"h":10},{"g":6,"l":30,"t":26.57,"h":9.31},{"g":6,"l":30,"t":27.9,"h":10},{"g":6,"l":30,"t":29.5,"h":10.92},{"g":6,"l":30,"t":29.5,"h":5.76},{"g":6,"l":30,"t":24.65,"h":5.93},{"g":6,"l":30,"t":20.82,"h":5.87},
{"g":7,"l":35,"t":18.33,"h":6.1},{"g":7,"l":35,"t":19.67,"h":7.25},{"g":7,"l":35,"t":20.63,"h":8.85},{"g":7,"l":35,"t":21.6,"h":10.23},{"g":7,"l":35,"t":22.74,"h":11.15},{"g":7,"l":35,"t":22.93,"h":11.43},{"g":7,"l":35,"t":23.9,"h":10.92},{"g":7,"l":35,"t":25.23,"h":11.15},{"g":7,"l":35,"t":25.6,"h":10.46},{"g":7,"l":35,"t":26.57,"h":9.31},{"g":7,"l":35,"t":28.5,"h":10.34},{"g":7,"l":35,"t":29.5,"h":10.57},{"g":7,"l":35,"t":29.5,"h":6.9},{"g":7,"l":35,"t":27.5,"h":6.79},{"g":7,"l":35,"t":24.65,"h":7.02},{"g":7,"l":35,"t":22.74,"h":7.25},{"g":7,"l":35,"t":20.82,"h":6.56},{"g":7,"l":35,"t":19.48,"h":6.16},
{"g":8,"l":40,"t":19.87,"h":7.25},{"g":8,"l":40,"t":21,"h":8.51},{"g":8,"l":40,"t":21.78,"h":10.05},{"g":8,"l":40,"t":22.36,"h":10.46},{"g":8,"l":40,"t":23.3,"h":10.46},{"g":8,"l":40,"t":24.65,"h":11.03},{"g":8,"l":40,"t":25.23,"h":11.03},{"g":8,"l":40,"t":24.85,"h":9.77},{"g":8,"l":40,"t":25.42,"h":8.28},{"g":8,"l":40,"t":26.95,"h":8.85},{"g":8,"l":40,"t":28.5,"h":10},{"g":8,"l":40,"t":29.5,"h":9.77},{"g":8,"l":40,"t":29.5,"h":7.94},{"g":8,"l":40,"t":27.35,"h":8.17},{"g":8,"l":40,"t":24.65,"h":7.94},{"g":8,"l":40,"t":22.74,"h":8.17},{"g":8,"l":40,"t":20.82,"h":7.25},
{"g":9,"l":45,"t":20.44,"h":7.53},{"g":9,"l":45,"t":21.2,"h":8.85},{"g":9,"l":45,"t":21.7,"h":9.54},{"g":9,"l":45,"t":22.07,"h":9.77},{"g":9,"l":45,"t":21.78,"h":8.97},{"g":9,"l":45,"t":20.82,"h":7.48},
{"g":10,"l":15,"t":26.95,"h":12.47},{"g":10,"l":15,"t":29.5,"h":12.92},{"g":10,"l":15,"t":29.5,"h":11.89},{"g":10,"l":15,"t":27.3,"h":12.01}],
"cf":[{"g":1,"c":10,"t":29.5,"h":3.95},{"g":1,"c":10,"t":18.9,"h":3.95},{"g":1,"c":10,"t":12.97,"h":3.78},{"g":1,"c":10,"t":12.55,"h":3.92},{"g":1,"c":10,"t":12.97,"h":4.27},{"g":1,"c":10,"t":13.93,"h":4.72},{"g":1,"c":10,"t":14.5,"h":5.53},{"g":1,"c":10,"t":15.65,"h":5.99},{"g":1,"c":10,"t":16.8,"h":7.02},{"g":1,"c":10,"t":17.38,"h":7.36},
{"g":2,"c":10,"t":17.86,"h":8.17},{"g":2,"c":10,"t":18.72,"h":8.85},{"g":2,"c":10,"t":19.48,"h":9.54},{"g":2,"c":10,"t":20.82,"h":9.89},{"g":2,"c":10,"t":21.78,"h":10.8},{"g":2,"c":10,"t":22.93,"h":11.38},{"g":2,"c":10,"t":23.2,"h":10.8},{"g":2,"c":10,"t":24.08,"h":10.46},{"g":2,"c":10,"t":25.04,"h":10.69},{"g":2,"c":10,"t":25.6,"h":10},{"g":2,"c":10,"t":25.9,"h":9.2},{"g":2,"c":10,"t":26.86,"h":10.23},
{"g":3,"c":10,"t":25.14,"h":11.84},{"g":3,"c":10,"t":24.75,"h":12.06},{"g":3,"c":10,"t":25.42,"h":12.47},{"g":3,"c":10,"t":25.8,"h":12.98},{"g":3,"c":10,"t":26.6,"h":13.55},{"g":3,"c":10,"t":28.5,"h":13.69},{"g":3,"c":10,"t":29.5,"h":13.73},
{"g":4,"c":15,"t":29.5,"h":13.38},{"g":4,"c":15,"t":27.9,"h":13.33},{"g":4,"c":15,"t":26.38,"h":12.75},{"g":4,"c":15,"t":26.1,"h":12.41},{"g":4,"c":15,"t":26.95,"h":11.66},{"g":4,"c":15,"t":28.5,"h":11.4},{"g":4,"c":15,"t":29.5,"h":11.6},
{"g":5,"c":15,"t":29.5,"h":4.72},{"g":5,"c":15,"t":15.08,"h":4.63},{"g":5,"c":15,"t":14.85,"h":4.78},{"g":5,"c":15,"t":17,"h":5.81},{"g":5,"c":15,"t":16.42,"h":6.1},{"g":5,"c":15,"t":16.6,"h":6.56},{"g":5,"c":15,"t":17.38,"h":7.02},
{"g":6,"c":15,"t":19.87,"h":8.62},{"g":6,"c":15,"t":20.82,"h":9.43},{"g":6,"c":15,"t":22.36,"h":10.8},{"g":6,"c":15,"t":22.93,"h":10},{"g":6,"c":15,"t":23.5,"h":10.11},{"g":6,"c":15,"t":24.85,"h":9.66},{"g":6,"c":15,"t":25.04,"h":8.28},{"g":6,"c":15,"t":26.95,"h":9.31},{"g":6,"c":15,"t":27.9,"h":10.06},{"g":6,"c":15,"t":29.06,"h":10.11},{"g":6,"c":15,"t":29.06,"h":9.43},{"g":6,"c":15,"t":29.5,"h":9.08},
{"g":7,"c":15,"t":23.9,"h":9.6},{"g":7,"c":15,"t":23.9,"h":9.3},
{"g":8,"c":20,"t":29.5,"h":6.67},{"g":8,"c":20,"t":29.06,"h":6.56},{"g":8,"c":20,"t":29.06,"h":6.16},{"g":8,"c":20,"t":28.3,"h":5.99},{"g":8,"c":20,"t":27.9,"h":5.7},{"g":8,"c":20,"t":17,"h":5.5},{"g":8,"c":20,"t":17.3,"h":5.99},{"g":8,"c":20,"t":18.1,"h":6.79},{"g":8,"c":20,"t":18.9,"h":7.25},{"g":8,"c":20,"t":19.87,"h":8.28},{"g":8,"c":20,"t":20.8,"h":8.85},{"g":8,"c":20,"t":21.5,"h":10.06},{"g":8,"c":20,"t":22.45,"h":10.11},{"g":8,"c":20,"t":21.78,"h":8.74},{"g":8,"c":20,"t":22.36,"h":8.74},{"g":8,"c":20,"t":23.03,"h":8.05},{"g":8,"c":20,"t":23.6,"h":8.05},{"g":8,"c":20,"t":24,"h":8.34},{"g":8,"c":20,"t":24.46,"h":8.1},
{"g":9,"c":20,"t":27.55,"h":9.08},{"g":9,"c":20,"t":28.3,"h":8.62},{"g":9,"c":20,"t":28.87,"h":7.94},{"g":9,"c":20,"t":29.45,"h":6.9},
{"g":10,"c":20,"t":29.5,"h":13.1},{"g":10,"c":20,"t":28.3,"h":12.92},{"g":10,"c":20,"t":26.57,"h":12.52},{"g":10,"c":20,"t":26.57,"h":12.18},{"g":10,"c":20,"t":27.5,"h":11.72},{"g":10,"c":20,"t":29.5,"h":11.89},
{"g":11,"c":25,"t":21.6,"h":9.22},{"g":11,"c":25,"t":20.55,"h":8.74},{"g":11,"c":25,"t":19.67,"h":7.82},{"g":11,"c":25,"t":18.9,"h":7.02},{"g":11,"c":25,"t":18.9,"h":6.73},{"g":11,"c":25,"t":20.05,"h":6.79},{"g":11,"c":25,"t":20.63,"h":7.13},{"g":11,"c":25,"t":21.4,"h":8.39},{"g":11,"c":25,"t":21.6,"h":9.22},
{"g":12,"c":25,"t":27.05,"h":7.88},{"g":12,"c":25,"t":26.38,"h":7.59},{"g":12,"c":25,"t":25.9,"h":7.13},{"g":12,"c":25,"t":26.47,"h":6.85},{"g":12,"c":25,"t":27.15,"h":7.25},{"g":12,"c":25,"t":27.34,"h":7.59},{"g":12,"c":25,"t":27.05,"h":7.88},
{"g":13,"c":25,"t":29.5,"h":12.87},{"g":13,"c":25,"t":28.77,"h":12.75},{"g":13,"c":25,"t":28.68,"h":12.52},{"g":13,"c":25,"t":27.15,"h":12.24},{"g":13,"c":25,"t":26.95,"h":12.12},{"g":13,"c":25,"t":27.9,"h":12},{"g":13,"c":25,"t":29.5,"h":12},
{"g":14,"c":30,"t":29.3,"h":12.6},{"g":14,"c":30,"t":29.15,"h":12.3},{"g":14,"c":30,"t":29.5,"h":12},{"g":14,"c":30,"t":29.5,"h":12.7},{"g":14,"c":30,"t":29.3,"h":12.6}],
"lf":[{"x":"0.10","c":10,"t":27.15,"h":11.32,"a":52},{"x":"0.15","c":15,"t":18.4,"h":8.34,"a":-55},{"x":"0.20","c":20,"t":25.9,"h":8.28,"a":-55}],
"bar":[{"lo":5,"hi":10},{"lo":10,"hi":15},{"lo":15,"hi":20},{"lo":20,"hi":25},{"lo":25,"hi":30},{"lo":30,"hi":35},{"lo":35,"hi":40},{"lo":40,"hi":45},{"lo":45,"hi":50}],
"tip":[{"x":0,"v":5},{"x":0,"v":50},{"x":0.5,"v":52.4},{"x":1,"v":50},{"x":1,"v":5},{"x":0,"v":5}]},
"vconcat":[
{"width":2068,"height":16,"view":{"fill":null,"stroke":null},"data":{"values":[{"x":0.442,"y":12,"s":"Vertical Velocity, Buoyancy"}]},"mark":{"type":"text","clip":true,"font":"Lato","fontWeight":"bold","fontStyle":"italic","fontSize":62,"color":"#ff0000","baseline":"alphabetic"},"encoding":{"x":{"field":"x","type":"quantitative","scale":{"domain":[0,1]},"axis":null},"y":{"field":"y","type":"quantitative","scale":{"domain":[0,16]},"axis":null},"text":{"field":"s"}}},
{"columns":4,"bounds":"flush","spacing":{"row":87,"column":57},"concat":[
{"title":{"text":"LCL1_1kmBUB","offset":-12},"width":570,"height":436,"layer":[
{"data":{"name":"fa"},"mark":{"type":"line","interpolate":"catmull-rom","clip":true,"order":null,"strokeWidth":0},"encoding":{"x":{"field":"t","type":"quantitative","scale":{"domain":[0,29.5],"nice":false},"axis":{"values":[0,10,20],"labels":false,"title":null}},"y":{"field":"h","type":"quantitative","scale":{"domain":[0,15],"nice":false},"axis":{"values":[0,5,10,15],"title":"Height AGL [ km ]"}},"fill":{"field":"l","type":"ordinal","scale":{"domain":[0,1,2,5,10,15,20,25,30,35,40,45],"range":["#d3d3d3","#002060","#ffffff","#481668","#443983","#365c8d","#2a788e","#1f8f89","#23a983","#4ec36b","#8fd744","#dde318"]},"legend":null},"detail":{"field":"g"}}},
{"data":{"name":"ca"},"mark":{"type":"line","clip":true,"order":null,"strokeWidth":4.5,"strokeJoin":"round","strokeCap":"round"},"encoding":{"x":{"field":"t","type":"quantitative"},"y":{"field":"h","type":"quantitative"},"stroke":{"field":"c","type":"ordinal","scale":{"domain":[10,15,20,25,30,99],"range":["#ffffff","#fdbb74","#ff7f00","#f04a00","#b30000","#002060"]},"legend":null},"detail":{"field":"g"}}},
{"data":{"name":"la"},"mark":{"type":"text","fontSize":29},"encoding":{"x":{"field":"t","type":"quantitative"},"y":{"field":"h","type":"quantitative"},"text":{"field":"x"},"angle":{"field":"a","type":"quantitative","scale":null},"color":{"field":"c","type":"ordinal","scale":{"domain":[10,15,20,99],"range":["#ffffff","#fdbb74","#ff7f00","#002060"]},"legend":null}}}]},
{"title":"LCL2_1kmBUB","width":570,"height":436,"layer":[
{"data":{"name":"fb"},"mark":{"type":"line","interpolate":"catmull-rom","clip":true,"order":null,"strokeWidth":0},"encoding":{"x":{"field":"t","type":"quantitative","scale":{"domain":[0,29.5],"nice":false},"axis":{"values":[0,10,20],"labels":false,"title":null}},"y":{"field":"h","type":"quantitative","scale":{"domain":[0,15],"nice":false},"axis":{"values":[0,5,10,15],"labels":false,"title":null}},"fill":{"field":"l","type":"ordinal","legend":null},"detail":{"field":"g"}}},
{"data":{"name":"cb"},"mark":{"type":"line","clip":true,"order":null,"strokeWidth":4.5,"strokeJoin":"round","strokeCap":"round"},"encoding":{"x":{"field":"t","type":"quantitative"},"y":{"field":"h","type":"quantitative"},"stroke":{"field":"c","type":"ordinal","legend":null},"detail":{"field":"g"}}},
{"data":{"name":"lb"},"mark":{"type":"text","fontSize":29},"encoding":{"x":{"field":"t","type":"quantitative"},"y":{"field":"h","type":"quantitative"},"text":{"field":"x"},"angle":{"field":"a","type":"quantitative","scale":null},"color":{"field":"c","type":"ordinal","legend":null}}}]},
{"title":"LCL3_1kmBUB","width":570,"height":436,"layer":[
{"data":{"name":"fc"},"mark":{"type":"line","interpolate":"catmull-rom","clip":true,"order":null,"strokeWidth":0},"encoding":{"x":{"field":"t","type":"quantitative","scale":{"domain":[0,29.5],"nice":false},"axis":{"values":[0,10,20],"labels":false,"title":null}},"y":{"field":"h","type":"quantitative","scale":{"domain":[0,15],"nice":false},"axis":{"values":[0,5,10,15],"labels":false,"title":null}},"fill":{"field":"l","type":"ordinal","legend":null},"detail":{"field":"g"}}},
{"data":{"name":"cc"},"mark":{"type":"line","clip":true,"order":null,"strokeWidth":4.5,"strokeJoin":"round","strokeCap":"round"},"encoding":{"x":{"field":"t","type":"quantitative"},"y":{"field":"h","type":"quantitative"},"stroke":{"field":"c","type":"ordinal","legend":null},"detail":{"field":"g"}}},
{"data":{"name":"dc"},"mark":{"type":"circle","size":60,"color":"#ffffff","opacity":1},"encoding":{"x":{"field":"t","type":"quantitative"},"y":{"field":"h","type":"quantitative"}}},
{"data":{"name":"lc"},"mark":{"type":"text","fontSize":29},"encoding":{"x":{"field":"t","type":"quantitative"},"y":{"field":"h","type":"quantitative"},"text":{"field":"x"},"angle":{"field":"a","type":"quantitative","scale":null},"color":{"field":"c","type":"ordinal","legend":null}}}]},
{"width":2,"height":436,"view":{"fill":null,"stroke":null},"layer":[
{"data":{"name":"tip"},"mark":{"type":"line","order":null,"fill":"#fde725","strokeWidth":0},"encoding":{"x":{"field":"x","type":"quantitative","scale":{"domain":[0,1],"range":[-22,2],"nice":false},"axis":null},"y":{"field":"v","type":"quantitative","scale":{"domain":[5,50],"range":[864,127],"nice":false},"axis":{"orient":"right","values":[5,10,15,20,25,30,35,40,45,50],"title":null,"domain":false}}}},
{"data":{"name":"bar"},"mark":{"type":"rect"},"encoding":{"x":{"datum":0,"type":"quantitative"},"x2":{"datum":1},"y":{"field":"lo","type":"quantitative"},"y2":{"field":"hi"},"fill":{"field":"lo","type":"ordinal","legend":null}}},
{"data":{"name":"tip"},"mark":{"type":"line","order":null,"stroke":"#111","strokeWidth":2},"encoding":{"x":{"field":"x","type":"quantitative"},"y":{"field":"v","type":"quantitative"}}},
{"data":{"values":[{"x":2.375,"v":2.31,"s":"(m s⁻¹)"}]},"mark":{"type":"text","font":"Lato","fontWeight":"bold","fontSize":57,"color":"#000"},"encoding":{"x":{"field":"x","type":"quantitative"},"y":{"field":"v","type":"quantitative"},"text":{"field":"s"}}}]},
{"title":{"text":"LCL1_2kmBUB","offset":-12},"width":570,"height":436,"layer":[
{"data":{"name":"fd"},"mark":{"type":"line","interpolate":"catmull-rom","clip":true,"order":null,"strokeWidth":0},"encoding":{"x":{"field":"t","type":"quantitative","scale":{"domain":[0,29.5],"nice":false},"axis":{"values":[0,10,20],"title":"Time [ min ]"}},"y":{"field":"h","type":"quantitative","scale":{"domain":[0,15],"nice":false},"axis":{"values":[0,5,10,15],"title":"Height AGL [ km ]"}},"fill":{"field":"l","type":"ordinal","legend":null},"detail":{"field":"g"}}},
{"data":{"name":"cd"},"mark":{"type":"line","clip":true,"order":null,"strokeWidth":4.5,"strokeJoin":"round","strokeCap":"round"},"encoding":{"x":{"field":"t","type":"quantitative"},"y":{"field":"h","type":"quantitative"},"stroke":{"field":"c","type":"ordinal","legend":null},"detail":{"field":"g"}}},
{"data":{"name":"dd"},"mark":{"type":"circle","size":60,"color":"#ffffff","opacity":1},"encoding":{"x":{"field":"t","type":"quantitative"},"y":{"field":"h","type":"quantitative"}}},
{"data":{"name":"ld"},"mark":{"type":"text","fontSize":29},"encoding":{"x":{"field":"t","type":"quantitative"},"y":{"field":"h","type":"quantitative"},"text":{"field":"x"},"angle":{"field":"a","type":"quantitative","scale":null},"color":{"field":"c","type":"ordinal","legend":null}}},
{"data":{"name":"td"},"mark":{"type":"text","fontSize":34.5,"font":"Lato","fontWeight":"bold"},"encoding":{"x":{"field":"t","type":"quantitative"},"y":{"field":"h","type":"quantitative"},"text":{"field":"x"},"color":{"field":"c","type":"ordinal","legend":null}}}]},
{"title":"LCL2_2kmBUB","width":570,"height":436,"layer":[
{"data":{"name":"fe"},"mark":{"type":"line","interpolate":"catmull-rom","clip":true,"order":null,"strokeWidth":0},"encoding":{"x":{"field":"t","type":"quantitative","scale":{"domain":[0,29.5],"nice":false},"axis":{"values":[0,10,20],"title":"Time [ min ]"}},"y":{"field":"h","type":"quantitative","scale":{"domain":[0,15],"nice":false},"axis":{"values":[0,5,10,15],"labels":false,"title":null}},"fill":{"field":"l","type":"ordinal","legend":null},"detail":{"field":"g"}}},
{"data":{"name":"ce"},"mark":{"type":"line","clip":true,"order":null,"strokeWidth":4.5,"strokeJoin":"round","strokeCap":"round"},"encoding":{"x":{"field":"t","type":"quantitative"},"y":{"field":"h","type":"quantitative"},"stroke":{"field":"c","type":"ordinal","legend":null},"detail":{"field":"g"}}},
{"data":{"name":"le"},"mark":{"type":"text","fontSize":29},"encoding":{"x":{"field":"t","type":"quantitative"},"y":{"field":"h","type":"quantitative"},"text":{"field":"x"},"angle":{"field":"a","type":"quantitative","scale":null},"color":{"field":"c","type":"ordinal","legend":null}}}]},
{"title":"LCL3_2kmBUB","width":570,"height":436,"layer":[
{"data":{"name":"ff"},"mark":{"type":"line","interpolate":"catmull-rom","clip":true,"order":null,"strokeWidth":0},"encoding":{"x":{"field":"t","type":"quantitative","scale":{"domain":[0,29.5],"nice":false},"axis":{"values":[0,10,20],"title":"Time [ min ]"}},"y":{"field":"h","type":"quantitative","scale":{"domain":[0,15],"nice":false},"axis":{"values":[0,5,10,15],"labels":false,"title":null}},"fill":{"field":"l","type":"ordinal","legend":null},"detail":{"field":"g"}}},
{"data":{"name":"cf"},"mark":{"type":"line","clip":true,"order":null,"strokeWidth":4.5,"strokeJoin":"round","strokeCap":"round"},"encoding":{"x":{"field":"t","type":"quantitative"},"y":{"field":"h","type":"quantitative"},"stroke":{"field":"c","type":"ordinal","legend":null},"detail":{"field":"g"}}},
{"data":{"name":"lf"},"mark":{"type":"text","fontSize":29},"encoding":{"x":{"field":"t","type":"quantitative"},"y":{"field":"h","type":"quantitative"},"text":{"field":"x"},"angle":{"field":"a","type":"quantitative","scale":null},"color":{"field":"c","type":"ordinal","legend":null}}}]}
]}]}
